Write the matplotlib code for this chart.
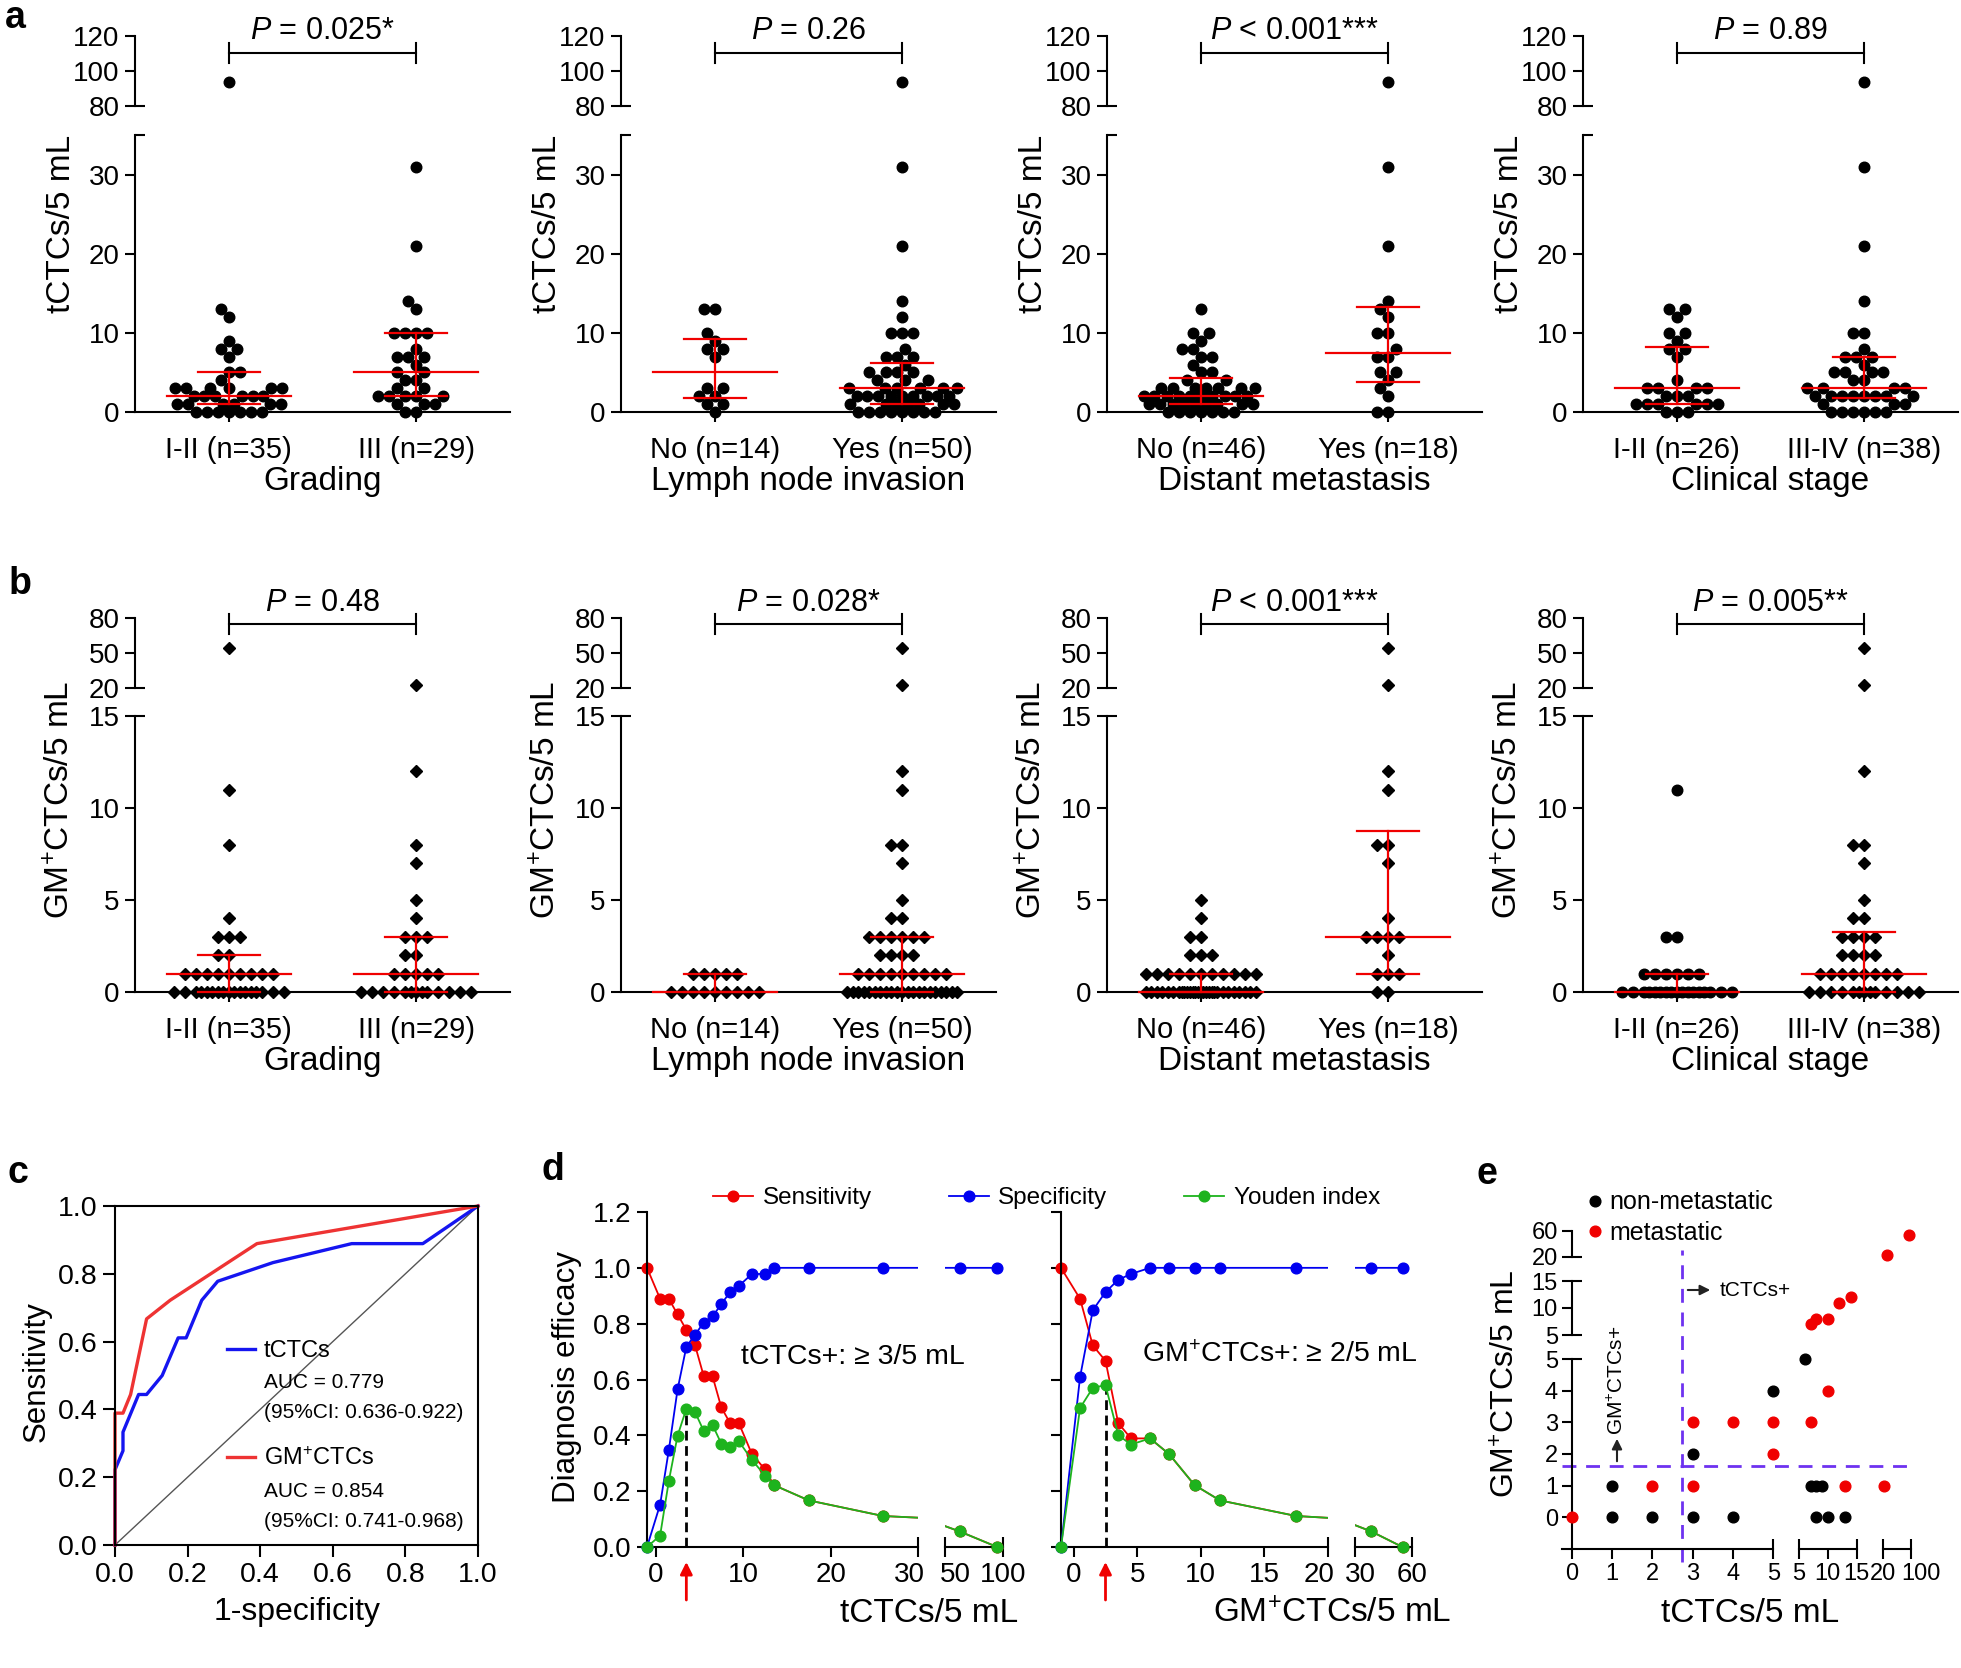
import matplotlib
matplotlib.use("Agg")
import matplotlib.pyplot as plt
import matplotlib.transforms as mtransforms
from matplotlib.patches import FancyArrowPatch
from matplotlib.lines import Line2D
import numpy as np

plt.rcParams['font.family'] = ['Liberation Sans', 'DejaVu Sans']
plt.rcParams['mathtext.fontset'] = 'custom'
plt.rcParams['mathtext.rm'] = 'Liberation Sans'
plt.rcParams['mathtext.it'] = 'Liberation Sans:italic'
plt.rcParams['mathtext.bf'] = 'Liberation Sans:bold'
plt.rcParams['mathtext.default'] = 'regular'
plt.rcParams['axes.linewidth'] = 1.5
plt.rcParams['xtick.major.width'] = 1.5
plt.rcParams['ytick.major.width'] = 1.5
plt.rcParams['xtick.major.size'] = 7
plt.rcParams['ytick.major.size'] = 7

# ---------------- data: panel a (tCTCs/5 mL) ----------------
grade_12 = [94, 13, 12, 9, 8, 8, 7, 5, 5, 4, 3, 3, 3, 3, 3, 3, 2, 2, 2, 2, 2, 2,
            1, 1, 1, 1, 1, 1, 0, 0, 0, 0, 0, 0, 0]
grade_3 = [31, 21, 14, 13, 10, 10, 10, 10, 8, 7, 7, 7, 6, 5, 5, 4, 4, 3, 3,
           2, 2, 2, 2, 2, 1, 1, 1, 0, 0]
lymph_no = [13, 13, 10, 9, 8, 8, 7, 3, 3, 2, 2, 1, 1, 0]
lymph_yes = [94, 31, 21, 14, 12, 10, 10, 10, 8, 7, 7, 7, 6, 5, 5, 5, 5, 4, 4, 4,
             3, 3, 3, 3, 3, 3, 2, 2, 2, 2, 2, 2, 2, 2, 2,
             1, 1, 1, 1, 1, 1, 1, 0, 0, 0, 0, 0, 0, 0, 0]
meta_no = [13, 10, 10, 9, 8, 8, 7, 7, 6, 5, 5, 4, 4, 3, 3, 3, 3, 3, 3, 3,
           2, 2, 2, 2, 2, 2, 2, 2, 2, 2, 1, 1, 1, 1, 1, 1, 1, 1, 1,
           0, 0, 0, 0, 0, 0, 0]
meta_yes = [94, 31, 21, 14, 13, 12, 10, 10, 8, 7, 7, 5, 5, 4, 3, 2, 0, 0]
stage_12 = [13, 13, 12, 10, 10, 9, 8, 8, 7, 4, 3, 3, 3, 3, 2, 2, 2,
            1, 1, 1, 1, 1, 1, 0, 0, 0]
stage_34 = [94, 31, 21, 14, 10, 10, 8, 7, 7, 7, 6, 5, 5, 5, 5, 4, 4, 3, 3, 3, 3,
            2, 2, 2, 2, 2, 2, 2, 2, 1, 1, 1, 0, 0, 0, 0, 0, 0]

# ---------------- data: panel b (GM+CTCs/5 mL) ----------------
gm_grade_12 = [54, 11, 8, 4, 3, 3, 3, 2, 2, 1, 1, 1, 1, 1, 1, 1, 1, 1,
               0, 0, 0, 0, 0, 0, 0, 0, 0, 0, 0, 0, 0, 0, 0, 0, 0]
gm_grade_3 = [23, 12, 8, 7, 5, 4, 3, 3, 3, 2, 2, 1, 1, 1, 1, 1,
              0, 0, 0, 0, 0, 0, 0, 0, 0, 0, 0, 0, 0]
gm_lymph_no = [1, 1, 1, 1, 1, 0, 0, 0, 0, 0, 0, 0, 0, 0]
gm_lymph_yes = [54, 23, 12, 11, 8, 8, 7, 5, 4, 4, 3, 3, 3, 3, 3, 3, 2, 2, 2, 2,
                1, 1, 1, 1, 1, 1, 1, 1, 1,
                0, 0, 0, 0, 0, 0, 0, 0, 0, 0, 0, 0, 0, 0, 0, 0, 0, 0, 0, 0, 0]
gm_meta_no = [5, 4, 3, 3, 2, 2, 2, 1, 1, 1, 1, 1, 1, 1, 1, 1, 1, 1,
              0, 0, 0, 0, 0, 0, 0, 0, 0, 0, 0, 0, 0, 0, 0, 0, 0, 0, 0, 0,
              0, 0, 0, 0, 0, 0, 0, 0]
gm_meta_yes = [54, 23, 12, 11, 8, 8, 7, 4, 3, 3, 3, 3, 2, 1, 1, 1, 0, 0]
gm_stage_12 = [11, 3, 3, 1, 1, 1, 1, 1, 1,
               0, 0, 0, 0, 0, 0, 0, 0, 0, 0, 0, 0, 0, 0, 0, 0, 0]
gm_stage_34 = [54, 23, 12, 8, 8, 7, 5, 4, 4, 3, 3, 3, 3, 2, 2, 2, 2,
               1, 1, 1, 1, 1, 1, 1, 1, 0, 0, 0, 0, 0, 0, 0, 0, 0, 0, 0, 0, 0]

cats = [['I-II (n=35)', 'III (n=29)'], ['No (n=14)', 'Yes (n=50)'],
        ['No (n=46)', 'Yes (n=18)'], ['I-II (n=26)', 'III-IV (n=38)']]
group_names = ['Grading', 'Lymph node invasion', 'Distant metastasis', 'Clinical stage']
p_a = [r'$\mathit{P}$ = 0.025*', r'$\mathit{P}$ = 0.26', r'$\mathit{P}$ < 0.001***', r'$\mathit{P}$ = 0.89']
p_b = [r'$\mathit{P}$ = 0.48', r'$\mathit{P}$ = 0.028*', r'$\mathit{P}$ < 0.001***', r'$\mathit{P}$ = 0.005**']

# ---------------- data: panel c (ROC) ----------------
roc_t_fpr = [0, 0, 0, 0, 0, 0.022, 0.022, 0.065, 0.087, 0.130, 0.174, 0.196, 0.239, 0.283, 0.435, 0.652, 0.848, 1.0]
roc_t_tpr = [0, 0.056, 0.111, 0.167, 0.222, 0.278, 0.333, 0.444, 0.444, 0.5, 0.611, 0.611, 0.722, 0.778, 0.833, 0.889, 0.889, 1.0]
roc_g_fpr = [0, 0, 0, 0, 0, 0, 0.022, 0.043, 0.087, 0.152, 0.391, 1.0]
roc_g_tpr = [0, 0.056, 0.111, 0.222, 0.333, 0.389, 0.389, 0.444, 0.667, 0.722, 0.889, 1.0]

# ---------------- data: panel d (diagnostic efficacy vs cut-off) ----------------
t_cut = [-1, 0.5, 1.5, 2.5, 3.5, 4.5, 5.5, 6.5, 7.5, 8.5, 9.5, 11, 12.5, 13.5, 17.5, 26, 62.5, 95]
t_sens = [1.0, 0.889, 0.889, 0.833, 0.778, 0.722, 0.611, 0.611, 0.5, 0.444, 0.444, 0.333, 0.278, 0.222, 0.167, 0.111, 0.056, 0.0]
t_spec = [0.0, 0.152, 0.348, 0.565, 0.717, 0.761, 0.804, 0.826, 0.870, 0.913, 0.935, 0.978, 0.978, 1.0, 1.0, 1.0, 1.0, 1.0]
t_youden = [0.0, 0.041, 0.237, 0.399, 0.495, 0.483, 0.415, 0.437, 0.370, 0.357, 0.379, 0.312, 0.256, 0.222, 0.167, 0.111, 0.056, 0.0]
g_cut = [-1, 0.5, 1.5, 2.5, 3.5, 4.5, 6, 7.5, 9.5, 11.5, 17.5, 38.5, 55]
g_sens = [1.0, 0.889, 0.722, 0.667, 0.444, 0.389, 0.389, 0.333, 0.222, 0.167, 0.111, 0.056, 0.0]
g_spec = [0.0, 0.609, 0.848, 0.913, 0.957, 0.978, 1.0, 1.0, 1.0, 1.0, 1.0, 1.0, 1.0]
g_youden = [0.0, 0.498, 0.570, 0.580, 0.401, 0.367, 0.389, 0.333, 0.222, 0.167, 0.111, 0.056, 0.0]

# ---------------- data: panel e (tCTCs vs GM+CTCs) ----------------
met_t = [0, 2, 3, 3, 4, 5, 5, 7, 7, 8, 10, 10, 12, 13, 14, 21, 31, 94]
met_g = [0, 1, 1, 3, 3, 3, 2, 3, 7, 8, 8, 4, 11, 1, 12, 1, 23, 54]
non_t = [1, 1, 2, 3, 3, 4, 5, 6, 7, 8, 9, 8, 10, 13]
non_g = [1, 0, 0, 2, 0, 0, 4, 5, 1, 1, 1, 0, 0, 0]
cut_t, cut_g = 2.73, 1.62

RED = '#F00000'
BLUE = '#0000F0'
GREEN = '#1DB31D'
PURPLE = '#6E32F0'

W, H = 1961, 1668
fig = plt.figure(figsize=(W / 100, H / 100), dpi=100)


def fx(x):
    return x / W


def fy(y):
    return 1 - y / H


def add_ax(x0, y0, x1, y1):
    ax = fig.add_axes([x0 / W, 1 - y1 / H, (x1 - x0) / W, (y1 - y0) / H])
    ax.set_facecolor('none')
    ax.spines['top'].set_visible(False)
    ax.spines['right'].set_visible(False)
    return ax


def cap(ax, x, y, mk, trans):
    ax.plot([x], [y], ls='none', marker=mk, ms=7, mew=1.5, color='k',
            transform=trans, clip_on=False)


def shift_xlabel(ax, idx, dx):
    lab = ax.xaxis.get_major_ticks()[idx].label1
    lab.set_transform(lab.get_transform() + mtransforms.ScaledTranslation(dx / 100, 0, fig.dpi_scale_trans))


def swarm(vals, ppu_y, ppu_x=187.0, d=11.0, half=57.0):
    # beeswarm in pixel space: nearest free slot to the centre, overlap allowed at max width
    vals = np.asarray(vals, dtype=float)
    grid = np.linspace(-half, half, 229)
    px, py = [], []
    xs = np.zeros(len(vals))
    for k in np.argsort(vals, kind='stable'):
        y = vals[k] * ppu_y
        if px:
            dist = np.sqrt((grid[:, None] - np.array(px)[None, :]) ** 2 +
                           (y - np.array(py)[None, :]) ** 2).min(axis=1)
        else:
            dist = np.full(grid.size, np.inf)
        ok = np.where(dist >= d - 1e-6)[0]
        if ok.size == 0:
            ok = np.where(dist >= dist.max() - 1e-6)[0]
        best = ok[np.argmin(np.abs(grid[ok]))]
        xs[k] = grid[best]
        px.append(grid[best])
        py.append(y)
    return xs / ppu_x


def dot_panel(xa, lay, groups, markers, cat, xlabel, ylabel, ptext):
    ax_t = add_ax(xa, lay['top'][0], xa + 375, lay['top'][1])
    ax_b = add_ax(xa, lay['bot'][0], xa + 375, lay['bot'][1])
    ax_t.spines['bottom'].set_visible(False)
    ax_t.set_xticks([])
    for ax in (ax_t, ax_b):
        ax.set_xlim(-0.5, 1.5)
        ax.tick_params(labelsize=20, pad=4)
    ax_t.set_ylim(*lay['tlim'])
    ax_t.set_yticks(lay['tticks'])
    ax_b.set_ylim(*lay['blim'])
    ax_b.set_yticks(lay['bticks'])
    cap(ax_t, 0, lay['tlim'][0], 1, ax_t.get_yaxis_transform())
    cap(ax_b, 0, lay['blim'][1], 1, ax_b.get_yaxis_transform())
    brk = lay['blim'][1]
    ppu = (lay['bot'][1] - lay['bot'][0]) / (lay['blim'][1] - lay['blim'][0])
    for i, (vals, mk) in enumerate(zip(groups, markers)):
        vals = np.asarray(vals, dtype=float)
        xs = i + swarm(vals, ppu)
        low = vals <= brk
        ms = 7.6 if mk == 'o' else 6.6
        ax_b.plot(xs[low], vals[low], ls='none', marker=mk, ms=ms, color='k', clip_on=False, zorder=3)
        ax_t.plot(xs[~low], vals[~low], ls='none', marker=mk, ms=ms, color='k', clip_on=False, zorder=3)
        q1, med, q3 = np.percentile(vals, [25, 50, 75], method='weibull')
        kw = dict(color=RED, lw=1.6, zorder=4, clip_on=False)
        ax_b.plot([i - 0.33, i + 0.33], [med, med], **kw)
        ax_b.plot([i - 0.165, i + 0.165], [q1, q1], **kw)
        ax_b.plot([i - 0.165, i + 0.165], [q3, q3], **kw)
        ax_b.plot([i, i], [q1, q3], **kw)
    ax_b.set_xticks([0, 1])
    ax_b.set_xticklabels(cat, fontsize=21)
    ax_b.tick_params(axis='x', pad=10)
    ax_b.set_xlabel(xlabel, fontsize=24, labelpad=2)
    fig.text(fx(xa - 74), fy(lay['ylab_y']), ylabel, rotation=90, ha='center', va='center', fontsize=24)
    tr = mtransforms.blended_transform_factory(ax_b.transData, fig.transFigure)
    yb = fy(lay['brk_y'])
    dy = 10 / H
    bk = dict(color='k', lw=1.5, transform=tr, clip_on=False)
    ax_b.plot([0, 1], [yb, yb], **bk)
    ax_b.plot([0, 0], [yb - dy, yb + dy], **bk)
    ax_b.plot([1, 1], [yb - dy, yb + dy], **bk)
    ax_b.text(0.5, fy(lay['p_y']), ptext, transform=tr, ha='center', va='center', fontsize=22)


LA = dict(top=(36, 106), bot=(135, 412), tlim=(80, 120), tticks=[80, 100, 120],
          blim=(0, 35), bticks=[0, 10, 20, 30], brk_y=53, p_y=31, ylab_y=224)
LB = dict(top=(618, 688), bot=(716, 992), tlim=(20, 80), tticks=[20, 50, 80],
          blim=(0, 15), bticks=[0, 5, 10, 15], brk_y=624, p_y=603, ylab_y=800)
xa_list = [135, 621, 1107, 1583]

groups_a = [(grade_12, grade_3), (lymph_no, lymph_yes), (meta_no, meta_yes), (stage_12, stage_34)]
groups_b = [(gm_grade_12, gm_grade_3), (gm_lymph_no, gm_lymph_yes), (gm_meta_no, gm_meta_yes),
            (gm_stage_12, gm_stage_34)]
markers_b = [('D', 'D'), ('D', 'D'), ('D', 'D'), ('o', 'D')]

for k in range(4):
    dot_panel(xa_list[k], LA, groups_a[k], ('o', 'o'), cats[k], group_names[k], 'tCTCs/5 mL', p_a[k])
    dot_panel(xa_list[k], LB, groups_b[k], markers_b[k], cats[k], group_names[k],
              'GM$^{+}$CTCs/5 mL', p_b[k])

# ---------------- panel c ----------------
axc = fig.add_axes([fx(115), fy(1545), (478 - 115) / W, (1545 - 1206) / H])
axc.set_facecolor('none')
axc.set_xlim(0, 1)
axc.set_ylim(0, 1)
ticks = [0, 0.2, 0.4, 0.6, 0.8, 1.0]
axc.set_xticks(ticks)
axc.set_yticks(ticks)
axc.set_xticklabels(['%.1f' % t for t in ticks])
axc.set_yticklabels(['%.1f' % t for t in ticks])
axc.tick_params(labelsize=20.5, length=8.5, pad=4)
axc.plot([0, 1], [0, 1], color='#555555', lw=1)
axc.plot(roc_t_fpr, roc_t_tpr, color='#1515F0', lw=2.4, clip_on=False)
axc.plot(roc_g_fpr, roc_g_tpr, color='#EE3333', lw=2.4, clip_on=False)
axc.plot([0.309, 0.386], [0.578, 0.578], color='#1515F0', lw=2.4, transform=axc.transAxes)
axc.plot([0.309, 0.386], [0.26, 0.26], color='#EE3333', lw=2.4, transform=axc.transAxes)
legend_txt = [('tCTCs', 0.555, 17), ('AUC = 0.779', 0.463, 15), ('(95%CI: 0.636-0.922)', 0.375, 15),
              ('GM$^{+}$CTCs', 0.236, 17), ('AUC = 0.854', 0.142, 15), ('(95%CI: 0.741-0.968)', 0.053, 15)]
for s, yy, fs in legend_txt:
    axc.text(0.41, yy, s, transform=axc.transAxes, fontsize=fs, va='baseline', ha='left')
fig.text(fx(297), fy(1620), '1-specificity', ha='center', va='baseline', fontsize=23)
fig.text(fx(37), fy(1372), 'Sensitivity', rotation=90, ha='center', va='center', fontsize=22.5)


# ---------------- panel d ----------------
def eff_panel(segs, cut, series, best, ylabels, shifts):
    cut = np.asarray(cut, dtype=float)
    for k, (p0, p1, lim, tks) in enumerate(segs):
        ax = add_ax(p0, 1212, p1, 1547)
        ax.set_xlim(*lim)
        ax.set_ylim(0, 1.2)
        ax.set_xticks(tks)
        ax.tick_params(labelsize=20, pad=4)
        if k == 0:
            yt = [0, 0.2, 0.4, 0.6, 0.8, 1.0, 1.2]
            ax.set_yticks(yt)
            if ylabels:
                ax.set_yticklabels(['%.1f' % t for t in yt])
            else:
                ax.set_yticklabels([])
            cap(ax, lim[1], 0, 2, ax.get_xaxis_transform())
            youd = np.asarray(series[2][0])
            ax.plot([cut[best], cut[best]], [0, youd[best]], color='k', lw=2,
                    ls=(0, (3.5, 2)), zorder=1.5)
            ax.annotate('', xy=(cut[best], fy(1562)), xytext=(cut[best], fy(1600)),
                        xycoords=('data', 'figure fraction'), textcoords=('data', 'figure fraction'),
                        arrowprops=dict(arrowstyle='-|>', color=RED, lw=2, mutation_scale=18,
                                        shrinkA=0, shrinkB=0), annotation_clip=False)
            shift_xlabel(ax, len(tks) - 1, shifts[0])
        else:
            ax.spines['left'].set_visible(False)
            ax.set_yticks([])
            cap(ax, lim[0], 0, 2, ax.get_xaxis_transform())
            cap(ax, lim[1], 0, 2, ax.get_xaxis_transform())
            shift_xlabel(ax, 0, shifts[1])
        inside = (cut >= lim[0]) & (cut <= lim[1])
        for z, (vals, col) in enumerate(series):
            vals = np.asarray(vals, dtype=float)
            ax.plot(cut, vals, color=col, lw=1.3, zorder=2 + z)
            ax.plot(cut[inside], vals[inside], ls='none', marker='o', ms=7.7, color=col,
                    clip_on=False, zorder=2 + z)


eff_panel([(647, 918, (-1, 30), [0, 10, 20, 30]), (945, 1003, (50, 100), [50, 100])],
          t_cut, [(t_sens, RED), (t_spec, BLUE), (t_youden, GREEN)], 4, True, (-9, 10))
eff_panel([(1061, 1328, (-1, 20), [0, 5, 10, 15, 20]), (1355, 1412, (30, 60), [30, 60])],
          g_cut, [(g_sens, RED), (g_spec, BLUE), (g_youden, GREEN)], 3, False, (-9, 5))
fig.text(fx(853), fy(1357), 'tCTCs+: \u2265 3/5 mL', ha='center', va='center', fontsize=20.5)
fig.text(fx(1280), fy(1355), 'GM$^{+}$CTCs+: \u2265 2/5 mL', ha='center', va='center', fontsize=20.5)
fig.text(fx(929), fy(1622), 'tCTCs/5 mL', ha='center', va='baseline', fontsize=24)
fig.text(fx(1332), fy(1622), 'GM$^{+}$CTCs/5 mL', ha='center', va='baseline', fontsize=24)
fig.text(fx(567), fy(1377), 'Diagnosis efficacy', rotation=90, ha='center', va='center', fontsize=22.5)
hd = [Line2D([], [], color=c, lw=1.3, marker='o', ms=7.7) for c in (RED, BLUE, GREEN)]
fig.legend(hd, ['Sensitivity', 'Specificity', 'Youden index'], loc='center left',
           bbox_to_anchor=(fx(713), fy(1198)), ncol=3, frameon=False, fontsize=17.5,
           handlelength=1.65, handletextpad=0.4, columnspacing=3.15, borderpad=0, borderaxespad=0)

# ---------------- panel e ----------------
xsegs = [(1561.7, 1773.3, (-0.25, 5), [0, 1, 2, 3, 4, 5]),
         (1799, 1856.7, (5, 15), [5, 10, 15]),
         (1883.3, 1911, (20, 100), [20, 100])]
ysegs = [(1359, 1549, (-1, 5), [0, 1, 2, 3, 4, 5]),
         (1281, 1335, (5, 15), [5, 10, 15]),
         (1230.7, 1256.7, (20, 60), [20, 60])]


def in_seg(v, lim, k):
    v = np.asarray(v, dtype=float)
    lo = v > lim[0] if k > 0 else v >= lim[0]
    return lo & (v <= lim[1])


ax_e0 = None
for i, (x0, x1, xl, xt) in enumerate(xsegs):
    for j, (y0, y1, yl, yt) in enumerate(ysegs):
        ax = add_ax(x0, y0, x1, y1)
        ax.set_xlim(*xl)
        ax.set_ylim(*yl)
        ax.tick_params(labelsize=17, pad=3)
        if j == 0:
            ax.set_xticks(xt)
            if i > 0:
                cap(ax, xl[0], 0, 2, ax.get_xaxis_transform())
            cap(ax, xl[1], 0, 2, ax.get_xaxis_transform())
            if i == 2:
                shift_xlabel(ax, 1, 10)
        else:
            ax.spines['bottom'].set_visible(False)
            ax.set_xticks([])
        if i == 0:
            ax.spines['left'].set_position(('data', 0))
            ax.set_yticks(yt)
            if j > 0:
                cap(ax, 0, yl[0], 1, ax.transData)
            if j < 2:
                cap(ax, 0, yl[1], 1, ax.transData)
        else:
            ax.spines['left'].set_visible(False)
            ax.set_yticks([])
        for tx, gy, col in ((non_t, non_g, 'k'), (met_t, met_g, RED)):
            tx = np.asarray(tx, dtype=float)
            gy = np.asarray(gy, dtype=float)
            m = in_seg(tx, xl, i) & in_seg(gy, yl, j)
            ax.plot(tx[m], gy[m], ls='none', marker='o', ms=7.7, color=col, clip_on=False, zorder=3)
        if i == 0 and j == 0:
            ax_e0 = ax

ax_e0.plot([cut_t, cut_t], [-1.41, 8.44], color=PURPLE, lw=2, ls=(0, (5, 3.5)), clip_on=False, zorder=2)
ax_e0.plot([-0.25, 8.52], [cut_g, cut_g], color=PURPLE, lw=2, ls=(0, (5, 3.5)), clip_on=False, zorder=2)
fig.text(fx(1720), fy(1290), 'tCTCs+', ha='left', va='center', fontsize=15)
fig.text(fx(1617), fy(1380), 'GM$^{+}$CTCs+', rotation=90, ha='center', va='center', fontsize=15)
fig.add_artist(FancyArrowPatch((fx(1685), fy(1290)), (fx(1713), fy(1290)),
                               transform=fig.transFigure, arrowstyle='-|>',
                               mutation_scale=15, color='#222222', lw=1.5))
fig.add_artist(FancyArrowPatch((fx(1617), fy(1464)), (fx(1617), fy(1436)),
                               transform=fig.transFigure, arrowstyle='-|>',
                               mutation_scale=15, color='#222222', lw=1.5))
fig.text(fx(1750), fy(1622), 'tCTCs/5 mL', ha='center', va='baseline', fontsize=24)
fig.text(fx(1507), fy(1384), 'GM$^{+}$CTCs/5 mL', rotation=90, ha='center', va='center', fontsize=23)
he = [Line2D([], [], ls='none', marker='o', ms=7.7, color=c) for c in ('k', RED)]
fig.legend(he, ['non-metastatic', 'metastatic'], loc='center left',
           bbox_to_anchor=(fx(1587), fy(1217.5)), frameon=False, fontsize=18,
           handlelength=0.6, handletextpad=0.3, labelspacing=0.25, borderpad=0, borderaxespad=0)

# ---------------- panel letters ----------------
for s, (x, y) in zip('abcde', [(15, 18), (20, 584), (18, 1173), (553, 1170), (1487, 1174)]):
    fig.text(fx(x), fy(y), s, fontsize=27, fontweight='bold', ha='center', va='center')

fig.savefig('out.png', dpi=100)
